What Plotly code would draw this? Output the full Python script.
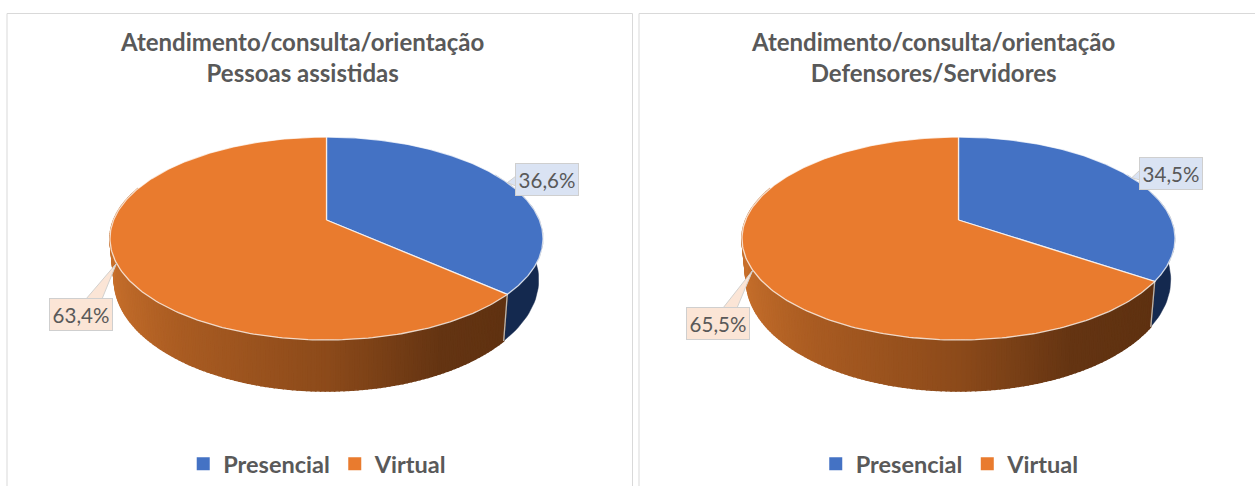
import math
import plotly.graph_objects as go

# ---- data ----
categories = ["Presencial", "Virtual"]
titles = ["Atendimento/consulta/orientação<br>Pessoas assistidas",
          "Atendimento/consulta/orientação<br>Defensores/Servidores"]
pessoas_assistidas = [36.6, 63.4]
defensores_servidores = [34.5, 65.5]
labels_pessoas = ["36,6%", "63,4%"]
labels_defensores = ["34,5%", "65,5%"]

# ---- styles / layout ----
W, H = 1255, 486
BLUE, ORANGE = "#4472C4", "#E97B2E"
BLUE_WALL = "#14294F"
ORANGE_WALL = [(-1.0, (200, 112, 44)), (-0.6, (170, 92, 34)), (0.0, (140, 74, 26)),
               (0.45, (100, 52, 18)), (1.0, (92, 48, 16))]
GREY = "#595959"
FONT = "Lato"
CENTERS = [326.5, 958.5]
TITLE_X = [302, 933]
PANELS = [(7, 632.5), (639, 1262)]
# perspective model of the tilted disc
A, B, K, APEX_Y = 212.9, 98.1, 0.1825, 220.0
S_BOTTOM, B_BOTTOM, APEX_Y_BOTTOM = 0.98, 107.5, 259.5
LABEL_BOX = [((547, 179.5), (80.5, 314.5)), ((1171, 173.5), (718, 323.5))]
POINTER_BASE = [(((516, 176), (516, 186)), ((86, 299), (102, 299))),
                (((1140, 170), (1140, 180)), ((723, 308), (737, 308)))]
LEGEND_X = [0.146, 0.650]


def top(cx, theta):
    t = math.radians(theta)
    u, v = math.sin(t), math.cos(t)
    w = 1 + K * v
    return cx + A * u / w, APEX_Y - B * v / w


def bottom(cx, theta):
    t = math.radians(theta)
    u, v = math.sin(t), math.cos(t)
    w = 1 + K * v
    return cx + S_BOTTOM * A * u / w, APEX_Y_BOTTOM - B_BOTTOM * v / w


def wall_colour(theta):
    # gradient follows the horizontal position around the front of the disc
    p = math.sin(math.radians(theta))
    for (p0, c0), (p1, c1) in zip(ORANGE_WALL, ORANGE_WALL[1:]):
        if p0 <= p <= p1:
            f = (p - p0) / (p1 - p0)
            rgb = [round(a + (b - a) * f) for a, b in zip(c0, c1)]
            return "rgb(%d,%d,%d)" % tuple(rgb)
    return "rgb(%d,%d,%d)" % ORANGE_WALL[-1][1]


fig = go.Figure()


def poly(xs, ys, fill, line=None, width=0.0):
    fig.add_trace(go.Scatter(x=xs, y=ys, mode="lines", fill="toself", fillcolor=fill,
                             line=dict(color=line or fill, width=width),
                             hoverinfo="skip", showlegend=False))


annotations = []
for i, (values, texts) in enumerate([(pessoas_assistidas, labels_pessoas),
                                     (defensores_servidores, labels_defensores)]):
    cx = CENTERS[i]
    split = 360 * values[0] / sum(values)

    # side wall, blue part
    arc = [60 + j * (split - 60) / 40 for j in range(41)]
    xs = [top(cx, a)[0] for a in arc] + [bottom(cx, a)[0] for a in reversed(arc)]
    ys = [top(cx, a)[1] for a in arc] + [bottom(cx, a)[1] for a in reversed(arc)]
    poly(xs, ys, BLUE_WALL, width=0.5)

    # side wall, orange part drawn as shaded strips
    n = 150
    end = 290
    for j in range(n):
        a0 = split + (end - split) * j / n
        a1 = split + (end - split) * (j + 1) / n
        x0, y0 = top(cx, a0)
        x1, y1 = top(cx, a1)
        x2, y2 = bottom(cx, a1)
        x3, y3 = bottom(cx, a0)
        poly([x0, x1, x2, x3, x0], [y0, y1, y2, y3, y0], wall_colour((a0 + a1) / 2), width=1.5)

    # seam between the two walls
    sx0, sy0 = top(cx, split)
    sx1, sy1 = bottom(cx, split)
    fig.add_trace(go.Scatter(x=[sx0, sx1], y=[sy0, sy1], mode="lines",
                             line=dict(color="#b9b4ae", width=1.3), hoverinfo="skip", showlegend=False))

    # top faces
    start = 0
    for v, colour in zip(values, [BLUE, ORANGE]):
        sweep = 360 * v / sum(values)
        arc = [start + sweep * j / 240 for j in range(241)]
        xs = [cx] + [top(cx, a)[0] for a in arc] + [cx]
        ys = [APEX_Y] + [top(cx, a)[1] for a in arc] + [APEX_Y]
        poly(xs, ys, colour, line="rgba(255,255,255,0.75)", width=1.3)
        start += sweep

    # data labels with callout pointers
    start = 0
    for k, (v, text) in enumerate(zip(values, texts)):
        sweep = 360 * v / sum(values)
        tip = top(cx, start + sweep / 2)
        start += sweep
        bg = "#DAE3F3" if k == 0 else "#FBE5D6"
        b0, b1 = POINTER_BASE[i][k]
        poly([b0[0], tip[0], b1[0]], [b0[1], tip[1], b1[1]], bg, line="#D3D1CE", width=1)
        bx, by = LABEL_BOX[i][k]
        annotations.append(dict(x=bx, y=by, xref="x", yref="y", text=text, showarrow=False,
                                width=60, height=29, bgcolor=bg, bordercolor="#CFCFCF", borderwidth=1,
                                font=dict(family=FONT, size=20.5, color=GREY)))
    annotations.append(dict(x=TITLE_X[i], y=57, xref="x", yref="y", text=titles[i], showarrow=False,
                            font=dict(family=FONT, size=24, color=GREY, weight=700)))

# legends: one per panel
for legend in ["legend", "legend2"]:
    for name, colour in zip(categories, [BLUE, ORANGE]):
        fig.add_trace(go.Scatter(x=[None], y=[None], mode="markers", name=name, legend=legend,
                                 marker=dict(symbol="square", size=13, color=colour)))

legend_style = dict(orientation="h", y=0.0, yanchor="bottom", xanchor="left", bgcolor="rgba(0,0,0,0)",
                    font=dict(family=FONT, size=23.5, color=GREY, weight=700), itemwidth=30,
                    traceorder="normal")

shapes = [dict(type="rect", xref="x", yref="y", x0=p0, x1=p1, y0=13.5, y1=H + 5,
               line=dict(color="#D9D9D9", width=1), fillcolor="rgba(0,0,0,0)", layer="below")
          for p0, p1 in PANELS]

fig.update_layout(
    width=W, height=H, margin=dict(l=0, r=0, t=0, b=0), paper_bgcolor="white", plot_bgcolor="white",
    xaxis=dict(range=[0, W], visible=False, fixedrange=True),
    yaxis=dict(range=[H, 0], visible=False, fixedrange=True),
    annotations=annotations, shapes=shapes,
    legend=dict(x=LEGEND_X[0], **legend_style),
    legend2=dict(x=LEGEND_X[1], **legend_style),
)
fig.write_html("out.html", config=dict(displayModeBar=False),
               post_script="document.body.style.margin='0';")
